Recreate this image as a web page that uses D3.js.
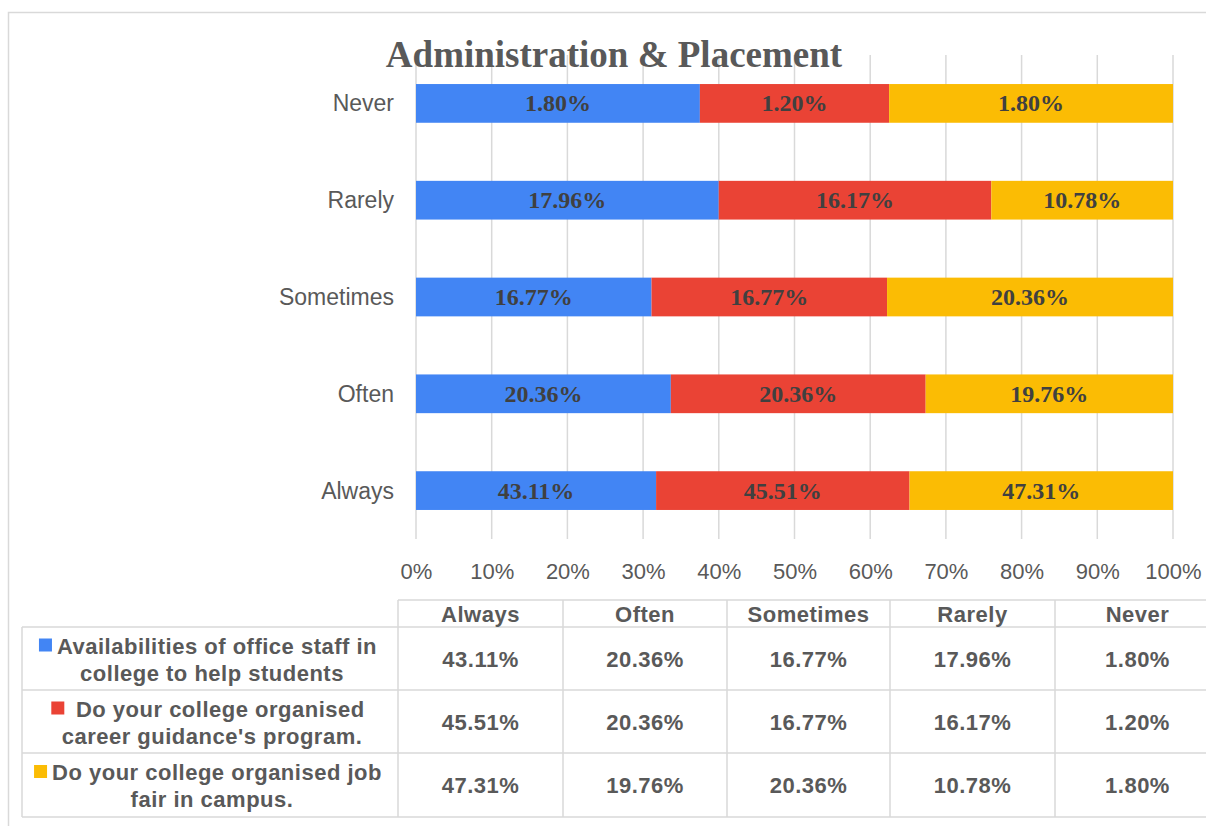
<!DOCTYPE html>
<html>
<head>
<meta charset="utf-8">
<script src="https://cdn.jsdelivr.net/npm/d3@7"></script>
<style>
  html, body { margin: 0; padding: 0; background: #fff; }
  svg { display: block; }
</style>
</head>
<body>
<div id="chart"></div>
<script>
// dane z wykresu
const categories = ['Always', 'Often', 'Sometimes', 'Rarely', 'Never'];
const seriesNames = [
  ['Availabilities of office staff in', 'college to help students'],
  [' Do your college organised', "career guidance's program."],
  ['Do your college organised job', 'fair in campus.']
];
const officeStaff = [43.11, 20.36, 16.77, 17.96, 1.80];
const careerGuidance = [45.51, 20.36, 16.77, 16.17, 1.20];
const jobFair = [47.31, 19.76, 20.36, 10.78, 1.80];
const tickValues = [0, 0.1, 0.2, 0.3, 0.4, 0.5, 0.6, 0.7, 0.8, 0.9, 1];
const colors = ['#4285F4', '#EA4335', '#FBBC04'];

const W = 1206, H = 826;
const PLOT = { LEFT: 416, RIGHT: 1173, TOP: 55, BOTTOM: 539 };
const GRID = '#d9d9d9';
const TEXT = '#595959';

const svg = d3.select('#chart').append('svg')
  .attr('width', W).attr('height', H);

// ramka wykresu
svg.append('rect')
  .attr('x', 8.5).attr('y', 12.5)
  .attr('width', W + 20).attr('height', H + 20)
  .attr('fill', 'none').attr('stroke', GRID).attr('stroke-width', 1.5);

const keys = ['s0', 's1', 's2'];
const rows = categories.map((c, i) => ({
  cat: c, s0: officeStaff[i], s1: careerGuidance[i], s2: jobFair[i]
}));
const stacked = d3.stack().keys(keys).offset(d3.stackOffsetExpand)(rows);

const x = d3.scaleLinear().domain([0, 1]).range([PLOT.LEFT, PLOT.RIGHT]);
const y = d3.scaleBand()
  .domain(categories.slice().reverse())
  .range([PLOT.TOP, PLOT.BOTTOM])
  .paddingInner(0.6).paddingOuter(0.3);

// siatka
svg.append('g').selectAll('line').data(tickValues).join('line')
  .attr('x1', d => x(d)).attr('x2', d => x(d))
  .attr('y1', PLOT.TOP).attr('y2', PLOT.BOTTOM)
  .attr('stroke', GRID).attr('stroke-width', 1.5);

// tytuł
svg.append('text')
  .attr('x', 614).attr('y', 67)
  .attr('text-anchor', 'middle')
  .style('font-family', '"Liberation Serif", "Times New Roman", serif')
  .style('font-weight', 'bold').style('font-size', '37px')
  .attr('fill', TEXT)
  .text('Administration & Placement');

// słupki
const layer = svg.append('g').selectAll('g').data(stacked).join('g')
  .attr('fill', (d, i) => colors[i]);

layer.selectAll('rect').data(d => d).join('rect')
  .attr('x', d => x(d[0]))
  .attr('width', d => x(d[1]) - x(d[0]))
  .attr('y', d => y(d.data.cat))
  .attr('height', y.bandwidth());

// etykiety wartości
layer.selectAll('text').data((d, i) => d.map(v => ({ v, key: keys[i] }))).join('text')
  .attr('x', d => (x(d.v[0]) + x(d.v[1])) / 2)
  .attr('y', d => y(d.v.data.cat) + y.bandwidth() / 2 + 8)
  .attr('text-anchor', 'middle')
  .style('font-family', '"Liberation Serif", "Times New Roman", serif')
  .style('font-weight', 'bold').style('font-size', '24px')
  .attr('fill', '#404040')
  .text(d => d.v.data[d.key].toFixed(2) + '%');

// oś Y - kategorie
const yAxis = svg.append('g')
  .attr('transform', `translate(${PLOT.LEFT - 22},0)`)
  .call(d3.axisLeft(y).tickSize(0).tickPadding(0));
yAxis.select('.domain').remove();
yAxis.selectAll('text')
  .style('font-family', '"Liberation Sans", Arial, sans-serif')
  .style('font-size', '23px').attr('fill', TEXT).attr('dy', '0.35em');

// oś X - procenty
const xAxis = svg.append('g')
  .attr('transform', `translate(0,${PLOT.BOTTOM + 20})`)
  .call(d3.axisBottom(x).tickValues(tickValues).tickFormat(d3.format('.0%')).tickSize(0).tickPadding(0));
xAxis.select('.domain').remove();
xAxis.selectAll('text')
  .style('font-family', '"Liberation Sans", Arial, sans-serif')
  .style('font-size', '22px').attr('fill', TEXT).attr('dy', '0.9em');

// tabela danych
const colEdges = [398, 563, 727, 890, 1055, 1220];
const rowEdges = [600, 627, 690, 753, 817];
const table = svg.append('g');
const lineStyle = sel => sel.attr('stroke', GRID).attr('stroke-width', 1.5);

table.append('line').attr('x1', colEdges[0]).attr('x2', W + 10)
  .attr('y1', rowEdges[0]).attr('y2', rowEdges[0]).call(lineStyle);
table.selectAll('.hl').data(rowEdges.slice(1)).join('line')
  .attr('x1', 22).attr('x2', W + 10)
  .attr('y1', d => d).attr('y2', d => d).call(lineStyle);
table.append('line').attr('x1', 22).attr('x2', 22)
  .attr('y1', rowEdges[1]).attr('y2', rowEdges[4]).call(lineStyle);
table.selectAll('.vl').data(colEdges.slice(0, 5)).join('line')
  .attr('x1', d => d).attr('x2', d => d)
  .attr('y1', rowEdges[0]).attr('y2', rowEdges[4]).call(lineStyle);

const tableFont = sel => sel
  .style('font-family', '"Liberation Sans", Arial, sans-serif')
  .style('font-weight', 'bold').style('font-size', '22px')
  .style('letter-spacing', '0.5px')
  .attr('fill', TEXT).attr('text-anchor', 'middle');

// nagłówek
table.selectAll('.hd').data(categories).join('text')
  .attr('x', (d, i) => (colEdges[i] + colEdges[i + 1]) / 2)
  .attr('y', 622)
  .call(tableFont)
  .text(d => d);

const seriesValues = [officeStaff, careerGuidance, jobFair];
seriesValues.forEach((vals, r) => {
  const mid = (rowEdges[r + 1] + rowEdges[r + 2]) / 2;
  table.append('g').selectAll('text').data(vals).join('text')
    .attr('x', (d, i) => (colEdges[i] + colEdges[i + 1]) / 2)
    .attr('y', mid + 8)
    .call(tableFont)
    .text(d => d.toFixed(2) + '%');

  // legenda w pierwszej kolumnie
  const cx = 208;
  const t1 = table.append('text')
    .attr('y', mid - 5)
    .call(tableFont).attr('text-anchor', 'start')
    .style('white-space', 'pre')
    .text(seriesNames[r][0]);
  const w1 = t1.node().getComputedTextLength();
  const total = 13 + 5 + w1;
  const start = Math.max(30, cx - total / 2);
  t1.attr('x', start + 18);
  table.append('rect')
    .attr('x', start).attr('y', mid - 20)
    .attr('width', 13).attr('height', 13)
    .attr('fill', colors[r]);
  table.append('text')
    .attr('x', cx + 4).attr('y', mid + 22)
    .call(tableFont)
    .text(seriesNames[r][1]);
});
</script>
</body>
</html>
